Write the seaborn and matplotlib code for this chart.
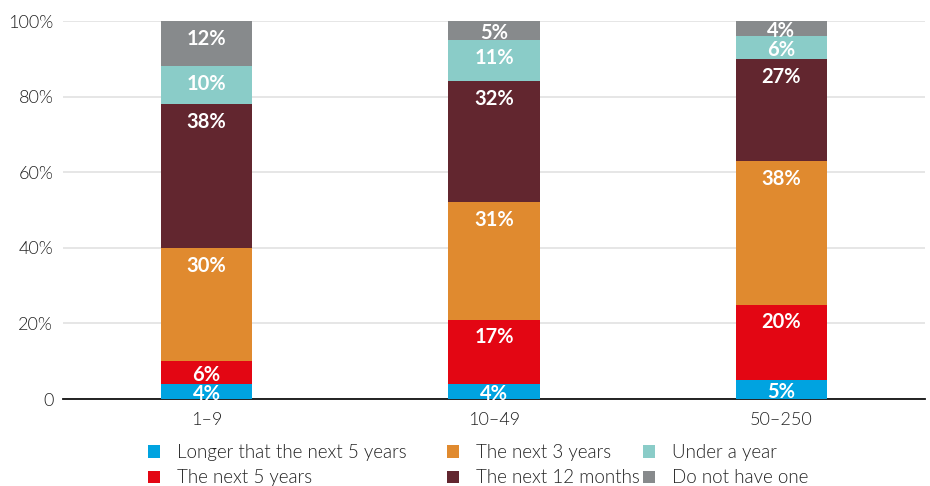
import matplotlib
matplotlib.use("Agg")
import matplotlib.pyplot as plt
from matplotlib.patches import Patch
import seaborn as sns
import numpy as np

categories = ["1–9", "10–49", "50–250"]
series_names = ["Longer that the next 5 years", "The next 5 years", "The next 3 years",
                "The next 12 months", "Under a year", "Do not have one"]
longer_5 = [4, 4, 5]
next_5 = [6, 17, 20]
next_3 = [30, 31, 38]
next_12m = [38, 32, 27]
under_year = [10, 11, 6]
no_plan = [12, 5, 4]
series_values = [longer_5, next_5, next_3, next_12m, under_year, no_plan]
colors = ["#00A3E0", "#E30613", "#E08A2F", "#62262F", "#8ACCC8", "#878A8C"]
y_ticks = [0, 20, 40, 60, 80, 100]
y_tick_labels = ["0", "20%", "40%", "60%", "80%", "100%"]

sns.set_theme(style="white")
plt.rcParams['font.family'] = ['Lato', 'DejaVu Sans']

fig = plt.figure(figsize=(9.3, 4.86), dpi=100)
ax = fig.add_axes([63/930, 1-399/486, (925-63)/930, (399-21)/486])

bottom = np.zeros(len(categories))
handles = []
for name, vals, col in zip(series_names, series_values, colors):
    sns.barplot(x=categories, y=vals, bottom=bottom, color=col, width=0.317,
                ax=ax, saturation=1, linewidth=0, zorder=3)
    for i, v in enumerate(vals):
        top = bottom[i] + v
        off = min(4.7, v/2 + 0.6)
        ax.text(i, top - off, f"{v}%", ha="center", va="center", color="white",
                fontsize=14.5, fontweight="bold", zorder=5)
    bottom = bottom + np.array(vals)
    handles.append(Patch(facecolor=col, edgecolor="none", label=name))

ax.set_xlim(-0.5, 2.5)
ax.set_ylim(0, 100)
ax.set_yticks(y_ticks)
ax.set_yticklabels(y_tick_labels)
ax.yaxis.grid(True, color="#E2E2E2", linewidth=1.2, zorder=0)
ax.set_axisbelow(True)
for s in ["left", "right", "top"]:
    ax.spines[s].set_visible(False)
ax.spines["bottom"].set_color("#111111")
ax.spines["bottom"].set_linewidth(1.3)
ax.tick_params(axis="both", length=0, labelsize=13, colors="#222222")
ax.tick_params(axis="y", pad=7)
ax.tick_params(axis="x", pad=9)
for lab in ax.get_xticklabels() + ax.get_yticklabels():
    lab.set_fontweight(300)
ax.set_xlabel("")
ax.set_ylabel("")

col_x = [148, 447, 643]
for c in range(3):
    leg = fig.legend(handles=handles[2*c:2*c+2], ncol=1, loc="upper left",
                     bbox_to_anchor=(col_x[c]/930, 1-444/486),
                     frameon=False, fontsize=13.5, handlelength=0.65, handleheight=0.65,
                     handletextpad=0.9, labelspacing=0.45, borderaxespad=0,
                     borderpad=0)
    for t in leg.get_texts():
        t.set_color("#222222")
        t.set_fontweight(300)

fig.savefig("out.png", dpi=100)
